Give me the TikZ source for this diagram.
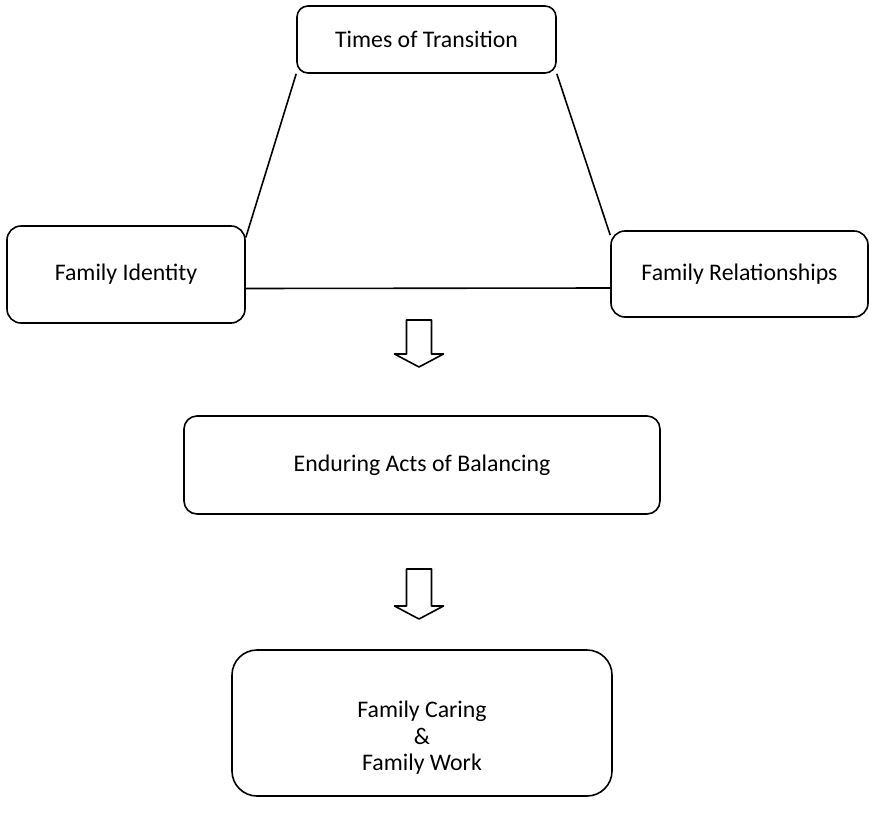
\documentclass[tikz,border=0pt]{standalone}
\usepackage{fontspec}
\setmainfont{Carlito}
\usetikzlibrary{calc}
\tikzset{
  boxline/.style={line width=1.6pt, draw=black, line join=round},
  box/.style={boxline, rectangle, rounded corners=#1, inner sep=0pt, align=center,
              font=\fontsize{23.8}{27}\selectfont},
  box/.default=12pt,
  link/.style={line width=1.6pt, draw=black},
}
\begin{document}
\begin{tikzpicture}[x=1pt, y=-1pt]
  \useasboundingbox (0,0) rectangle (869,824);

  % boxes
  \node[box=11pt, minimum width=259pt, minimum height=67pt] (tt) at (426.5,39.5) {Times of Transition};
  \node[box=14pt, minimum width=238pt, minimum height=97pt] (fi) at (126,274.5) {Family Identity};
  \node[box=14pt, minimum width=257pt, minimum height=86pt] (fr) at (739.5,274) {Family Relationships};
  \node[box=13pt, minimum width=476pt, minimum height=98pt] (ab) at (422,465) {Enduring Acts of Balancing};
  \node[box=25pt, minimum width=380pt, minimum height=146pt] (fc) at (422,723) {};
  \node[font=\fontsize{23.8}{26.5}\selectfont, align=center] (fct) at (422,738)
       {Family Caring\\\&\\Family Work};

  % triangle of connectors between the three themes
  \draw[link] (tt.south west) -- ($(fi.east)+(0,-37)$);
  \draw[link] (tt.south east) -- ($(fr.west)+(0,-39)$);
  \draw[link] ($(fi.east)+(0,14)$) -- ($(fr.west)+(0,14)$);

  % block arrows
  \coordinate (a1) at (419,320);
  \coordinate (a2) at (419,569);
  \draw[boxline, fill=white] (a1) ++(-12.5,0) -- ++(25,0) -- ++(0,34) -- ++(12,0)
       -- ($(a1)+(0,47)$) -- ($(a1)+(-24.5,34)$) -- ($(a1)+(-12.5,34)$) -- cycle;
  \draw[boxline, fill=white] (a2) ++(-12.5,0) -- ++(25,0) -- ++(0,37) -- ++(12,0)
       -- ($(a2)+(0,50)$) -- ($(a2)+(-24.5,37)$) -- ($(a2)+(-12.5,37)$) -- cycle;
\end{tikzpicture}
\end{document}
